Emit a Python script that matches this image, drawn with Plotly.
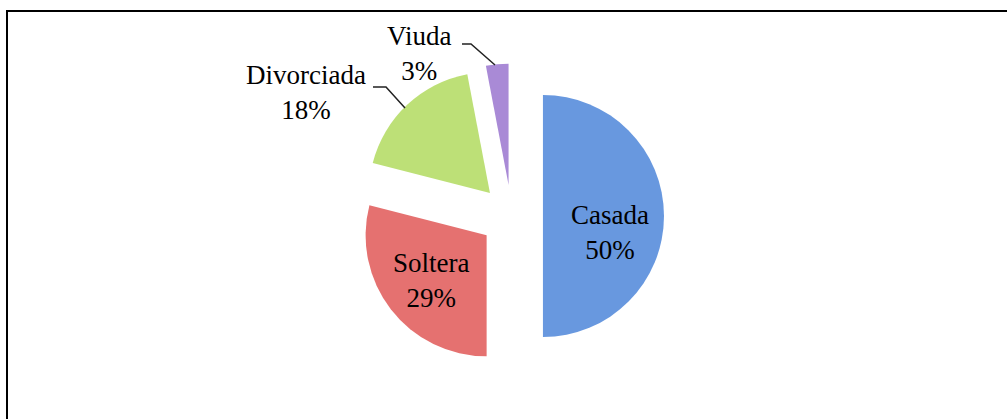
import plotly.graph_objects as go

labels = ["Casada", "Soltera", "Divorciada", "Viuda"]
values = [50, 29, 18, 3]
colors = ["#6898DF", "#E57170", "#BDE077", "#A98AD6"]

W, H = 1007, 419
FONT = "Liberation Serif"

fig = go.Figure()
fig.add_trace(go.Pie(
    labels=labels, values=values, sort=False, direction="clockwise", rotation=0,
    marker=dict(colors=colors, line=dict(width=0)),
    pull=[0.26] * len(values),
    textinfo="none",
    domain=dict(x=[(511.5 - 152.5) / W, (511.5 + 152.5) / W],
                y=[1 - 368.5 / H, 1 - 63.5 / H]),
    showlegend=False, hoverinfo="label+percent",
))

# invisible pixel-space axes for frame, labels and leader lines
fig.add_trace(go.Scatter(x=[0, W], y=[0, H], mode="markers", marker=dict(opacity=0),
                         showlegend=False, hoverinfo="skip"))
fig.update_xaxes(range=[0, W], visible=False, fixedrange=True)
fig.update_yaxes(range=[H, 0], visible=False, fixedrange=True)

# slice labels
label_pos = {"Casada": (610, 232), "Soltera": (431, 280),
             "Divorciada": (306, 92), "Viuda": (419, 53)}
for lab, val in zip(labels, values):
    x, y = label_pos[lab]
    fig.add_annotation(x=x, y=y, xref="x", yref="y", text=f"{lab}<br>{val}%",
                       showarrow=False, align="center",
                       font=dict(family=FONT, size=27, color="black"))

# leader lines
fig.add_shape(type="path", path="M 373 87 L 386 87 L 405 108", xref="x", yref="y",
              line=dict(color="#222222", width=1.5))
fig.add_shape(type="path", path="M 462 44 L 471 44 L 495 65", xref="x", yref="y",
              line=dict(color="#222222", width=1.5))

# frame (top and left edges)
fig.add_shape(type="line", x0=6, x1=W + 5, y0=11, y1=11, xref="x", yref="y",
              line=dict(color="black", width=2))
fig.add_shape(type="line", x0=7, x1=7, y0=10, y1=H + 5, xref="x", yref="y",
              line=dict(color="black", width=2))

fig.update_layout(width=W, height=H, margin=dict(l=0, r=0, t=0, b=0),
                  paper_bgcolor="white", plot_bgcolor="white",
                  font=dict(family=FONT, size=27, color="black"))
fig.write_html("out.html", config={"displayModeBar": False},
               post_script="document.body.style.margin='0';document.body.style.overflow='hidden';")
